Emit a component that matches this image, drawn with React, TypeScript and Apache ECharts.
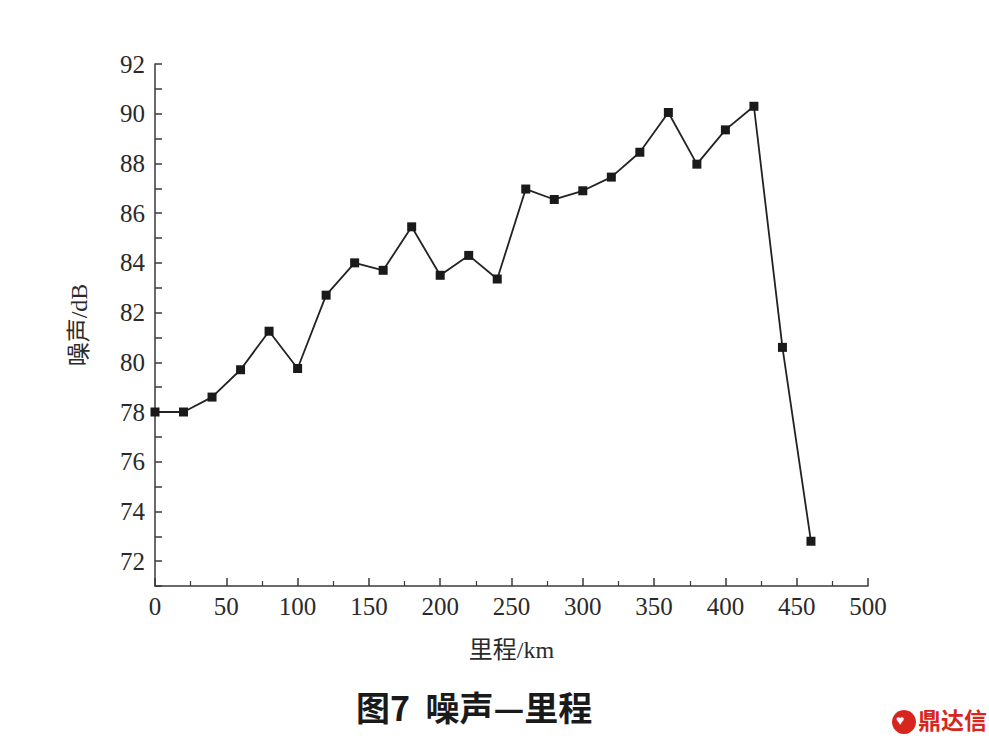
import React, { useEffect, useRef } from "react";
import * as echarts from "echarts";

const mileage = [0, 20, 40, 60, 80, 100, 120, 140, 160, 180, 200, 220, 240, 260, 280, 300, 320, 340, 360, 380, 400, 420, 440, 460];
const noise = [78.0, 78.0, 78.6, 79.7, 81.25, 79.75, 82.7, 84.0, 83.7, 85.45, 83.5, 84.3, 83.35, 86.97, 86.55, 86.9, 87.45, 88.45, 90.05, 87.97, 89.35, 90.3, 80.6, 72.8];
const xTitle = "里程/km";
const yTitle = "噪声/dB";
const caption = "图7  噪声—里程";
const logoText = "鼎达信";

const serif = '"Liberation Serif", "DejaVu Serif", "Noto Sans CJK SC", serif';
const axisColor = "#3a3a3a";

export default function App() {
  const ref = useRef<HTMLDivElement>(null);
  useEffect(() => {
    if (!ref.current) return;
    const chart = echarts.init(ref.current, undefined, { renderer: "svg" });
    chart.setOption({
      animation: false,
      backgroundColor: "#ffffff",
      grid: { left: 155, right: 121, top: 64, bottom: 160, containLabel: false },
      xAxis: {
        type: "value",
        min: 0,
        max: 500,
        interval: 50,
        name: xTitle,
        nameLocation: "middle",
        nameGap: 52,
        nameTextStyle: { fontFamily: serif, fontSize: 24, color: "#2a2a2a" },
        axisLine: { show: true, lineStyle: { color: axisColor, width: 1.5 } },
        axisTick: { show: true, inside: true, length: 8, lineStyle: { color: axisColor, width: 1.5 } },
        minorTick: { show: true, splitNumber: 2, length: 5, lineStyle: { color: axisColor, width: 1.2 } },
        axisLabel: { fontFamily: serif, fontSize: 25, color: "#2a2a2a", margin: 8 },
        splitLine: { show: false },
      },
      yAxis: {
        type: "value",
        min: 71,
        max: 92,
        interval: 1,
        name: yTitle,
        nameLocation: "middle",
        nameGap: 64,
        nameRotate: 90,
        nameTextStyle: { fontFamily: serif, fontSize: 24, color: "#2a2a2a" },
        axisLine: { show: true, lineStyle: { color: axisColor, width: 1.5 } },
        axisTick: {
          show: true,
          inside: true,
          length: 7,
          lineStyle: { color: axisColor, width: 1.5 },
        },
        minorTick: { show: false },
        axisLabel: {
          fontFamily: serif,
          fontSize: 25,
          color: "#2a2a2a",
          margin: 10,
          formatter: (v: number) => (v % 2 === 0 ? String(v) : ""),
        },
        splitLine: { show: false },
      },
      series: [
        {
          type: "line",
          data: mileage.map((m, i) => [m, noise[i]]),
          symbol: "rect",
          symbolSize: 9,
          itemStyle: { color: "#1a1a1a" },
          lineStyle: { color: "#222222", width: 1.8 },
          z: 3,
        },
      ],
      graphic: [
        {
          type: "text",
          left: 356,
          top: 689,
          style: {
            text: caption,
            fontFamily: '"Noto Sans CJK SC", sans-serif',
            fontWeight: "bold",
            fontSize: 34,
            fill: "#1a1a1a",
          },
        },
        {
          type: "circle",
          shape: { cx: 904, cy: 722, r: 12 },
          style: { fill: "#d7261e" },
        },
        {
          type: "text",
          x: 896,
          y: 713,
          style: { text: "♥", fontSize: 14, fill: "#ffffff" },
        },
        {
          type: "text",
          left: 918,
          top: 707,
          style: {
            text: logoText,
            fontFamily: '"Noto Sans CJK SC", sans-serif',
            fontWeight: "bold",
            fontSize: 23,
            fill: "#d7261e",
          },
        },
      ],
    });
    return () => chart.dispose();
  }, []);
  return <div ref={ref} style={{ width: 989, height: 746, position: "absolute", left: 0, top: 0 }} />;
}
